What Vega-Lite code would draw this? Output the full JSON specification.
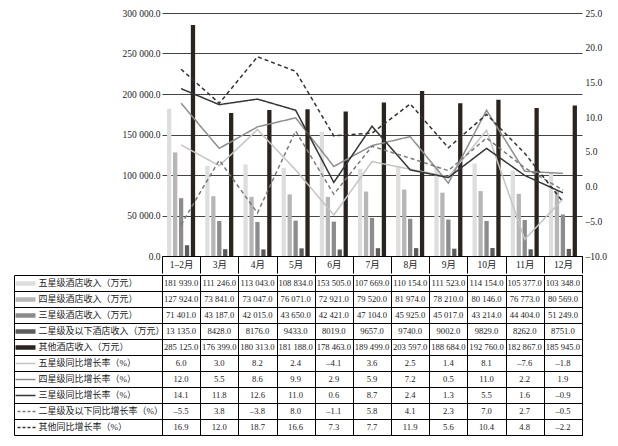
{
  "$schema": "https://vega.github.io/schema/vega-lite/v6.json",
  "padding": {"left": 12, "top": 8, "right": 4, "bottom": 4},
  "spacing": 0,
  "config": {
    "font": "Liberation Serif, Noto Sans CJK SC",
    "locale": {"number": {"decimal": ".", "thousands": " ", "grouping": [3], "currency": ["", ""], "minus": "–"}},
    "axis": {"labelColor": "#222", "labelFontSize": 9.5}
  },
  "datasets": {
    "d": [
      {"month": "1–2月", "item": "五星级酒店收入（万元）", "value": 181939},
      {"month": "3月", "item": "五星级酒店收入（万元）", "value": 111246},
      {"month": "4月", "item": "五星级酒店收入（万元）", "value": 113043},
      {"month": "5月", "item": "五星级酒店收入（万元）", "value": 108834},
      {"month": "6月", "item": "五星级酒店收入（万元）", "value": 153505},
      {"month": "7月", "item": "五星级酒店收入（万元）", "value": 107669},
      {"month": "8月", "item": "五星级酒店收入（万元）", "value": 110154},
      {"month": "9月", "item": "五星级酒店收入（万元）", "value": 111523},
      {"month": "10月", "item": "五星级酒店收入（万元）", "value": 114154},
      {"month": "11月", "item": "五星级酒店收入（万元）", "value": 105377},
      {"month": "12月", "item": "五星级酒店收入（万元）", "value": 103348},
      {"month": "1–2月", "item": "四星级酒店收入（万元）", "value": 127924},
      {"month": "3月", "item": "四星级酒店收入（万元）", "value": 73841},
      {"month": "4月", "item": "四星级酒店收入（万元）", "value": 73047},
      {"month": "5月", "item": "四星级酒店收入（万元）", "value": 76071},
      {"month": "6月", "item": "四星级酒店收入（万元）", "value": 72921},
      {"month": "7月", "item": "四星级酒店收入（万元）", "value": 79520},
      {"month": "8月", "item": "四星级酒店收入（万元）", "value": 81974},
      {"month": "9月", "item": "四星级酒店收入（万元）", "value": 78210},
      {"month": "10月", "item": "四星级酒店收入（万元）", "value": 80146},
      {"month": "11月", "item": "四星级酒店收入（万元）", "value": 76773},
      {"month": "12月", "item": "四星级酒店收入（万元）", "value": 80569},
      {"month": "1–2月", "item": "三星级酒店收入（万元）", "value": 71401},
      {"month": "3月", "item": "三星级酒店收入（万元）", "value": 43187},
      {"month": "4月", "item": "三星级酒店收入（万元）", "value": 42015},
      {"month": "5月", "item": "三星级酒店收入（万元）", "value": 43650},
      {"month": "6月", "item": "三星级酒店收入（万元）", "value": 42421},
      {"month": "7月", "item": "三星级酒店收入（万元）", "value": 47104},
      {"month": "8月", "item": "三星级酒店收入（万元）", "value": 45925},
      {"month": "9月", "item": "三星级酒店收入（万元）", "value": 45017},
      {"month": "10月", "item": "三星级酒店收入（万元）", "value": 43214},
      {"month": "11月", "item": "三星级酒店收入（万元）", "value": 44404},
      {"month": "12月", "item": "三星级酒店收入（万元）", "value": 51249},
      {"month": "1–2月", "item": "二星级及以下酒店收入（万元）", "value": 13135},
      {"month": "3月", "item": "二星级及以下酒店收入（万元）", "value": 8428},
      {"month": "4月", "item": "二星级及以下酒店收入（万元）", "value": 8176},
      {"month": "5月", "item": "二星级及以下酒店收入（万元）", "value": 9433},
      {"month": "6月", "item": "二星级及以下酒店收入（万元）", "value": 8019},
      {"month": "7月", "item": "二星级及以下酒店收入（万元）", "value": 9657},
      {"month": "8月", "item": "二星级及以下酒店收入（万元）", "value": 9740},
      {"month": "9月", "item": "二星级及以下酒店收入（万元）", "value": 9002},
      {"month": "10月", "item": "二星级及以下酒店收入（万元）", "value": 9829},
      {"month": "11月", "item": "二星级及以下酒店收入（万元）", "value": 8262},
      {"month": "12月", "item": "二星级及以下酒店收入（万元）", "value": 8751},
      {"month": "1–2月", "item": "其他酒店收入（万元）", "value": 285125},
      {"month": "3月", "item": "其他酒店收入（万元）", "value": 176399},
      {"month": "4月", "item": "其他酒店收入（万元）", "value": 180313},
      {"month": "5月", "item": "其他酒店收入（万元）", "value": 181188},
      {"month": "6月", "item": "其他酒店收入（万元）", "value": 178463},
      {"month": "7月", "item": "其他酒店收入（万元）", "value": 189499},
      {"month": "8月", "item": "其他酒店收入（万元）", "value": 203597},
      {"month": "9月", "item": "其他酒店收入（万元）", "value": 188684},
      {"month": "10月", "item": "其他酒店收入（万元）", "value": 192760},
      {"month": "11月", "item": "其他酒店收入（万元）", "value": 182867},
      {"month": "12月", "item": "其他酒店收入（万元）", "value": 185945},
      {"month": "1–2月", "item": "五星级同比增长率（%）", "value": 6.0},
      {"month": "3月", "item": "五星级同比增长率（%）", "value": 3.0},
      {"month": "4月", "item": "五星级同比增长率（%）", "value": 8.2},
      {"month": "5月", "item": "五星级同比增长率（%）", "value": 2.4},
      {"month": "6月", "item": "五星级同比增长率（%）", "value": -4.1},
      {"month": "7月", "item": "五星级同比增长率（%）", "value": 3.6},
      {"month": "8月", "item": "五星级同比增长率（%）", "value": 2.5},
      {"month": "9月", "item": "五星级同比增长率（%）", "value": 1.4},
      {"month": "10月", "item": "五星级同比增长率（%）", "value": 8.1},
      {"month": "11月", "item": "五星级同比增长率（%）", "value": -7.6},
      {"month": "12月", "item": "五星级同比增长率（%）", "value": -1.8},
      {"month": "1–2月", "item": "四星级同比增长率（%）", "value": 12.0},
      {"month": "3月", "item": "四星级同比增长率（%）", "value": 5.5},
      {"month": "4月", "item": "四星级同比增长率（%）", "value": 8.6},
      {"month": "5月", "item": "四星级同比增长率（%）", "value": 9.9},
      {"month": "6月", "item": "四星级同比增长率（%）", "value": 2.9},
      {"month": "7月", "item": "四星级同比增长率（%）", "value": 5.9},
      {"month": "8月", "item": "四星级同比增长率（%）", "value": 7.2},
      {"month": "9月", "item": "四星级同比增长率（%）", "value": 0.5},
      {"month": "10月", "item": "四星级同比增长率（%）", "value": 11.0},
      {"month": "11月", "item": "四星级同比增长率（%）", "value": 2.2},
      {"month": "12月", "item": "四星级同比增长率（%）", "value": 1.9},
      {"month": "1–2月", "item": "三星级同比增长率（%）", "value": 14.1},
      {"month": "3月", "item": "三星级同比增长率（%）", "value": 11.8},
      {"month": "4月", "item": "三星级同比增长率（%）", "value": 12.6},
      {"month": "5月", "item": "三星级同比增长率（%）", "value": 11.0},
      {"month": "6月", "item": "三星级同比增长率（%）", "value": 0.6},
      {"month": "7月", "item": "三星级同比增长率（%）", "value": 8.7},
      {"month": "8月", "item": "三星级同比增长率（%）", "value": 2.4},
      {"month": "9月", "item": "三星级同比增长率（%）", "value": 1.3},
      {"month": "10月", "item": "三星级同比增长率（%）", "value": 5.5},
      {"month": "11月", "item": "三星级同比增长率（%）", "value": 1.6},
      {"month": "12月", "item": "三星级同比增长率（%）", "value": -0.9},
      {"month": "1–2月", "item": "二星级及以下同比增长率（%）", "value": -5.5},
      {"month": "3月", "item": "二星级及以下同比增长率（%）", "value": 3.8},
      {"month": "4月", "item": "二星级及以下同比增长率（%）", "value": -3.8},
      {"month": "5月", "item": "二星级及以下同比增长率（%）", "value": 8.0},
      {"month": "6月", "item": "二星级及以下同比增长率（%）", "value": -1.1},
      {"month": "7月", "item": "二星级及以下同比增长率（%）", "value": 5.8},
      {"month": "8月", "item": "二星级及以下同比增长率（%）", "value": 4.1},
      {"month": "9月", "item": "二星级及以下同比增长率（%）", "value": 2.3},
      {"month": "10月", "item": "二星级及以下同比增长率（%）", "value": 7.0},
      {"month": "11月", "item": "二星级及以下同比增长率（%）", "value": 2.7},
      {"month": "12月", "item": "二星级及以下同比增长率（%）", "value": -0.5},
      {"month": "1–2月", "item": "其他同比增长率（%）", "value": 16.9},
      {"month": "3月", "item": "其他同比增长率（%）", "value": 12.0},
      {"month": "4月", "item": "其他同比增长率（%）", "value": 18.7},
      {"month": "5月", "item": "其他同比增长率（%）", "value": 16.6},
      {"month": "6月", "item": "其他同比增长率（%）", "value": 7.3},
      {"month": "7月", "item": "其他同比增长率（%）", "value": 7.7},
      {"month": "8月", "item": "其他同比增长率（%）", "value": 11.9},
      {"month": "9月", "item": "其他同比增长率（%）", "value": 5.6},
      {"month": "10月", "item": "其他同比增长率（%）", "value": 10.4},
      {"month": "11月", "item": "其他同比增长率（%）", "value": 4.8},
      {"month": "12月", "item": "其他同比增长率（%）", "value": -2.2}
    ]
  },
  "vconcat": [
    {
      "data": {"name": "d"},
      "width": 420,
      "height": 243,
      "view": {"stroke": null},
      "encoding": {
        "x": {
          "field": "month", "type": "nominal",
          "sort": ["1–2月", "3月", "4月", "5月", "6月", "7月", "8月", "9月", "10月", "11月", "12月"],
          "scale": {"paddingInner": 0, "paddingOuter": 0},
          "axis": {"orient": "bottom", "title": null, "domain": true, "domainColor": "#000", "domainWidth": 1, "grid": false, "ticks": true, "tickSize": 17, "tickColor": "#000", "tickWidth": 1, "tickBand": "extent", "tickExtra": true, "labels": true, "labelAngle": 0, "labelPadding": -8.5, "labelBaseline": "middle", "labelAlign": "center", "labelFontSize": 9.5}
        }
      },
      "layer": [
        {
          "transform": [{"filter": {"field": "item", "oneOf": ["五星级酒店收入（万元）", "四星级酒店收入（万元）", "三星级酒店收入（万元）", "二星级及以下酒店收入（万元）", "其他酒店收入（万元）"]}}],
          "mark": {"type": "bar"},
          "encoding": {
            "xOffset": {"field": "item", "type": "nominal", "sort": ["五星级酒店收入（万元）", "四星级酒店收入（万元）", "三星级酒店收入（万元）", "二星级及以下酒店收入（万元）", "其他酒店收入（万元）"], "scale": {"paddingInner": 0.28, "paddingOuter": 0.85}},
            "y": {
              "field": "value", "type": "quantitative",
              "scale": {"domain": [0, 300000], "nice": false},
              "axis": {"orient": "left", "title": null, "values": [0, 50000, 100000, 150000, 200000, 250000, 300000], "format": ",.1f", "grid": true, "gridColor": "#444", "gridWidth": 1, "domain": false, "ticks": false, "labelPadding": 2}
            },
            "color": {
              "field": "item", "type": "nominal",
              "scale": {"domain": ["五星级酒店收入（万元）", "四星级酒店收入（万元）", "三星级酒店收入（万元）", "二星级及以下酒店收入（万元）", "其他酒店收入（万元）"], "range": ["#dedede", "#b6b6b6", "#8c8c8c", "#5c5c5c", "#2a2421"]},
              "legend": null
            }
          }
        },
        {
          "transform": [{"filter": {"field": "item", "oneOf": ["五星级同比增长率（%）", "四星级同比增长率（%）", "三星级同比增长率（%）", "二星级及以下同比增长率（%）", "其他同比增长率（%）"]}}],
          "mark": {"type": "line", "strokeWidth": 1.5},
          "encoding": {
            "y": {
              "field": "value", "type": "quantitative",
              "scale": {"domain": [-10, 25], "nice": false},
              "axis": {"orient": "right", "title": null, "values": [-10, -5, 0, 5, 10, 15, 20, 25], "format": ".1f", "grid": false, "domain": false, "ticks": false, "labelPadding": 3}
            },
            "color": {
              "field": "item", "type": "nominal",
              "scale": {"domain": ["五星级同比增长率（%）", "四星级同比增长率（%）", "三星级同比增长率（%）", "二星级及以下同比增长率（%）", "其他同比增长率（%）"], "range": ["#c4c4c4", "#8e8e8e", "#353535", "#7a7a7a", "#333333"]},
              "legend": null
            },
            "strokeDash": {
              "field": "item", "type": "nominal",
              "scale": {"domain": ["五星级同比增长率（%）", "四星级同比增长率（%）", "三星级同比增长率（%）", "二星级及以下同比增长率（%）", "其他同比增长率（%）"], "range": [[1, 0], [1, 0], [1, 0], [4, 3], [4, 3]]},
              "legend": null
            }
          }
        }
      ],
      "resolve": {"scale": {"y": "independent", "color": "independent"}}
    },
    {
      "data": {"name": "d"},
      "width": 420,
      "height": 160,
      "view": {"stroke": "#000", "strokeWidth": 1},
      "encoding": {
        "x": {
          "field": "month", "type": "nominal",
          "sort": ["1–2月", "3月", "4月", "5月", "6月", "7月", "8月", "9月", "10月", "11月", "12月"],
          "scale": {"paddingInner": 0, "paddingOuter": 0},
          "axis": {"orient": "top", "title": null, "domain": false, "ticks": false, "labels": false, "tickBand": "extent", "tickExtra": true, "grid": true, "gridColor": "#000", "gridWidth": 1}
        }
      },
      "layer": [
        {
          "transform": [{"filter": "datum.value >= 10000"}],
          "mark": {"type": "text", "fontSize": 8.6, "color": "#222", "align": "center", "baseline": "middle"},
          "encoding": {
            "y": {
              "field": "item", "type": "nominal",
              "sort": ["五星级酒店收入（万元）", "四星级酒店收入（万元）", "三星级酒店收入（万元）", "二星级及以下酒店收入（万元）", "其他酒店收入（万元）", "五星级同比增长率（%）", "四星级同比增长率（%）", "三星级同比增长率（%）", "二星级及以下同比增长率（%）", "其他同比增长率（%）"],
              "scale": {"paddingInner": 0, "paddingOuter": 0},
              "axis": {
                "orient": "left", "offset": 127, "title": null, "domain": false, "grid": false,
                "ticks": true, "tickSize": 20, "tickCap": "butt",
                "labelPadding": -23, "labelAlign": "left", "labelBaseline": "middle", "labelFontSize": 9, "labelLimit": 200,
                "tickColor": {"condition": [
                  {"test": "datum.value === '五星级酒店收入（万元）'", "value": "#dedede"},
                  {"test": "datum.value === '四星级酒店收入（万元）'", "value": "#b6b6b6"},
                  {"test": "datum.value === '三星级酒店收入（万元）'", "value": "#8c8c8c"},
                  {"test": "datum.value === '二星级及以下酒店收入（万元）'", "value": "#5c5c5c"},
                  {"test": "datum.value === '其他酒店收入（万元）'", "value": "#2a2421"},
                  {"test": "datum.value === '五星级同比增长率（%）'", "value": "#c4c4c4"},
                  {"test": "datum.value === '四星级同比增长率（%）'", "value": "#8e8e8e"},
                  {"test": "datum.value === '三星级同比增长率（%）'", "value": "#353535"},
                  {"test": "datum.value === '二星级及以下同比增长率（%）'", "value": "#7a7a7a"}
                ], "value": "#333333"},
                "tickWidth": {"condition": {"test": "datum.value === '五星级酒店收入（万元）' || datum.value === '四星级酒店收入（万元）' || datum.value === '三星级酒店收入（万元）' || datum.value === '二星级及以下酒店收入（万元）' || datum.value === '其他酒店收入（万元）'", "value": 4.5}, "value": 1.5},
                "tickDash": {"condition": {"test": "datum.value === '二星级及以下同比增长率（%）' || datum.value === '其他同比增长率（%）'", "value": [3, 2]}, "value": []}
              }
            },
            "text": {"field": "value", "type": "quantitative", "format": ",.1f"}
          }
        },
        {
          "transform": [{"filter": "datum.value < 10000"}],
          "mark": {"type": "text", "fontSize": 8.6, "color": "#222", "align": "center", "baseline": "middle"},
          "encoding": {
            "y": {
              "field": "item", "type": "nominal",
              "sort": ["五星级酒店收入（万元）", "四星级酒店收入（万元）", "三星级酒店收入（万元）", "二星级及以下酒店收入（万元）", "其他酒店收入（万元）", "五星级同比增长率（%）", "四星级同比增长率（%）", "三星级同比增长率（%）", "二星级及以下同比增长率（%）", "其他同比增长率（%）"],
              "scale": {"paddingInner": 0, "paddingOuter": 0},
              "axis": {
                "orient": "left", "offset": 148, "title": null, "domain": true, "domainColor": "#000", "domainWidth": 1,
                "ticks": true, "tickSize": -148, "tickColor": "#000", "tickWidth": 1, "tickBand": "extent", "tickExtra": true,
                "labels": false, "grid": true, "gridColor": "#000", "gridWidth": 1
              }
            },
            "text": {"field": "value", "type": "quantitative", "format": ".1f"}
          }
        }
      ],
      "resolve": {"axis": {"y": "independent"}}
    }
  ]
}
